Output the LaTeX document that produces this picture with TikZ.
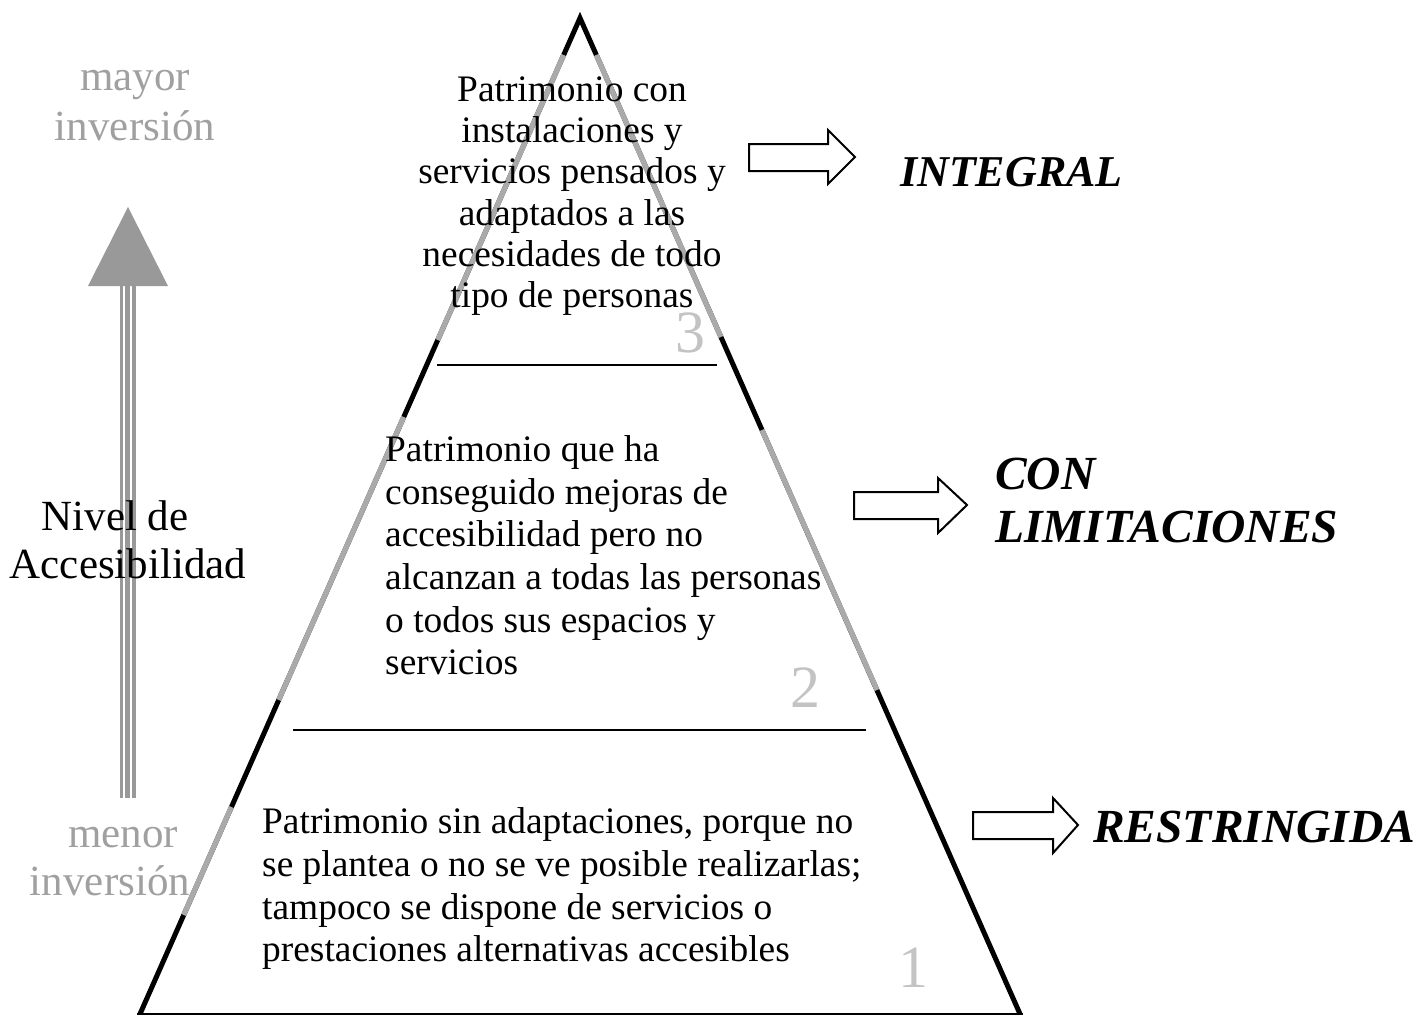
\documentclass[tikz,border=0pt]{standalone}
\usepackage{fontspec}
\setmainfont{Liberation Serif}
\definecolor{invgray}{RGB}{160,160,160}
\definecolor{arrowgray}{RGB}{153,153,153}
\definecolor{numgray}{RGB}{195,195,195}
\definecolor{sidegray}{RGB}{170,170,170}
\begin{document}
\begin{tikzpicture}[x=1pt,y=-1pt,
  bodytop/.style={font=\fontsize{37.4}{41.2}\selectfont, inner sep=0pt},
  bodymid/.style={font=\fontsize{37.4}{42.6}\selectfont, inner sep=0pt},
  bodybot/.style={font=\fontsize{37.4}{42.7}\selectfont, inner sep=0pt},
  lab/.style={font=\fontsize{43}{48}\selectfont, inner sep=0pt},
  inv/.style={lab, text=invgray},
  lvl/.style={font=\bfseries\itshape\fontsize{44}{53}\selectfont, inner sep=0pt},
  lvlbig/.style={font=\bfseries\itshape\fontsize{47.5}{53}\selectfont, inner sep=0pt},
  num/.style={font=\fontsize{60}{64}\selectfont, text=numgray, inner sep=0pt},
  blockarrow/.style={draw, line width=2pt, fill=white, line join=miter},
  sep/.style={line width=2pt},
  graypart/.style={sidegray, line width=5.2pt}
]
\useasboundingbox (0,0) rectangle (1422,1017);

% pyramid
\draw[line width=5pt, line join=miter, miter limit=20] (140,1014) -- (580,18) -- (1020,1014);
\draw[line width=2pt] (137,1014) -- (1023,1014);
% grey portions of the sides
\draw[graypart] (563.7,55) -- (437.7,340);
\draw[graypart] (596.3,55) -- (720.9,337);
\draw[graypart] (403.7,417) -- (278.7,700);
\draw[graypart] (762,430) -- (877,690);
\draw[graypart] (231.4,807) -- (183.7,915);

% level separators
\draw[sep] (437,365) -- (717,365);
\draw[sep] (293,730) -- (866,730);

% texts in the pyramid
\node[bodytop, anchor=north, align=center] (t3) at (572,76.5)
  {Patrimonio con\\instalaciones y\\servicios pensados y\\adaptados a las\\necesidades de todo\\tipo de personas};
\node[bodymid, anchor=north west, align=left] (t2) at (385,435.5)
  {Patrimonio que ha\\conseguido mejoras de\\accesibilidad pero no\\alcanzan a todas las personas\\o todos sus espacios y\\servicios};
\node[bodybot, anchor=north west, align=left] (t1) at (262,807.5)
  {Patrimonio sin adaptaciones, porque no\\se plantea o no se ve posible realizarlas;\\tampoco se dispone de servicios o\\prestaciones alternativas accesibles};

% level numbers
\node[num] (n3) at (690,333) {3};
\node[num] (n2) at (805,688) {2};
\node[num] (n1) at (913,968) {1};

% block arrows
\draw[blockarrow] (749,144) -- (828,144) -- (828,130) -- (855,157) -- (828,184) -- (828,171) -- (749,171) -- cycle;
\draw[blockarrow] (854,492) -- (938,492) -- (938,478) -- (967,505) -- (938,533) -- (938,519) -- (854,519) -- cycle;
\draw[blockarrow] (973,812) -- (1053,812) -- (1053,798) -- (1078,825) -- (1053,853) -- (1053,839) -- (973,839) -- cycle;

% level names
\node[lvl, anchor=base west] (integral) at (900,186) {INTEGRAL};
\node[lvlbig, anchor=north west, align=left] (conlim) at (995,458) {CON\\LIMITACIONES};
\node[lvlbig, anchor=base west] (restr) at (1093,842) {RESTRINGIDA};

% left accessibility arrow
\fill[arrowgray] (88,286) -- (128,207) -- (168,286) -- cycle;
\fill[arrowgray] (120,286) rectangle (122.5,798);
\fill[arrowgray] (125,286) rectangle (130,798);
\fill[arrowgray] (132,286) rectangle (136,798);

\node[inv, anchor=base] (may1) at (135,90) {mayor};
\node[inv, anchor=base] (may2) at (135,140) {inversión};
\node[lab, anchor=base] (niv1) at (115,530) {Nivel de};
\node[lab, anchor=base] (niv2) at (128,578) {Accesibilidad};
\node[inv, anchor=base] (men1) at (123,847) {menor};
\node[inv, anchor=base] (men2) at (110,895) {inversión};
\end{tikzpicture}
\end{document}
